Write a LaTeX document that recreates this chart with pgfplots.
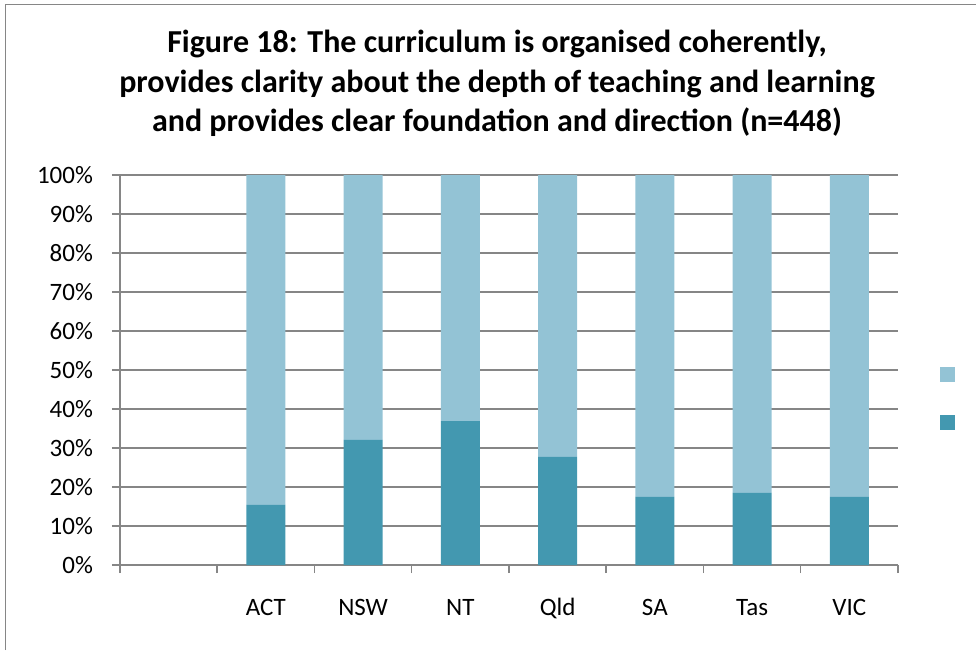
\documentclass[border=0pt]{standalone}
\usepackage{pgfplots}
\pgfplotsset{compat=1.18}
\usepackage{fontspec}
\setmainfont{Carlito}
\definecolor{lightbar}{RGB}{147,195,213}
\definecolor{darkbar}{RGB}{67,152,176}
\definecolor{gridgray}{RGB}{134,134,134}
\begin{document}
\begin{tikzpicture}
\path[use as bounding box] (0,0) rectangle (488pt,325pt);
\draw[gridgray, line width=0.6pt] (2.75pt,0) -- (2.75pt,322.75pt) -- (490pt,322.75pt);
\node[anchor=base, font=\bfseries\fontsize{16}{18}\selectfont] at (248.5pt,298.5pt) {Figure 18: The curriculum is organised coherently,};
\node[anchor=base, font=\bfseries\fontsize{16}{18}\selectfont] at (248.5pt,279pt) {provides clarity about the depth of teaching and learning};
\node[anchor=base, font=\bfseries\fontsize{16}{18}\selectfont] at (248.5pt,259.5pt) {and provides clear foundation and direction (n=448)};
\begin{axis}[
  at={(60pt,42.5pt)}, anchor=south west,
  scale only axis, width=389pt, height=195pt,
  ybar stacked, bar width=0.4,
  xmin=0, xmax=8, ymin=0, ymax=100,
  axis x line*=bottom, axis y line*=left,
  axis line style={gridgray, line width=0.75pt, -},
  ytick={0,10,...,100},
  yticklabel={\pgfmathprintnumber{\tick}\%},
  yticklabel style={xshift=-6pt},
  /pgf/number format/assume math mode=true,
  ymajorgrids, grid style={gridgray, line width=0.75pt},
  tick align=outside, major tick length=4pt,
  tick style={gridgray, line width=0.75pt},
  xtick={0,1,...,8}, xticklabels={},
  extra x ticks={0.5,1.5,...,7.5},
  extra x tick labels={,ACT,NSW,NT,Qld,SA,Tas,VIC},
  extra x tick style={major tick length=0pt, tick style={draw=none},
    xticklabel style={text height=8pt, text depth=0pt, yshift=-13.5pt}},
  ticklabel style={font=\fontsize{12.5}{14}\selectfont, text=black},
  legend image code/.code={\fill[#1] (0pt,-3.75pt) rectangle (7.5pt,3.75pt);},
  reverse legend,
  legend style={draw=none, fill=none, at={(1.054,0.5077)}, anchor=north west,
    inner sep=0pt, row sep=16.5pt, nodes={inner sep=0pt}},
]
\addplot[fill=darkbar, draw=none] coordinates {(1.5,15.4) (2.5,32.1) (3.5,36.9) (4.5,27.7) (5.5,17.5) (6.5,18.5) (7.5,17.5)};
\addlegendentry{}
\addplot[fill=lightbar, draw=none] coordinates {(1.5,84.6) (2.5,67.9) (3.5,63.1) (4.5,72.3) (5.5,82.5) (6.5,81.5) (7.5,82.5)};
\addlegendentry{}
\end{axis}
\end{tikzpicture}
\end{document}
